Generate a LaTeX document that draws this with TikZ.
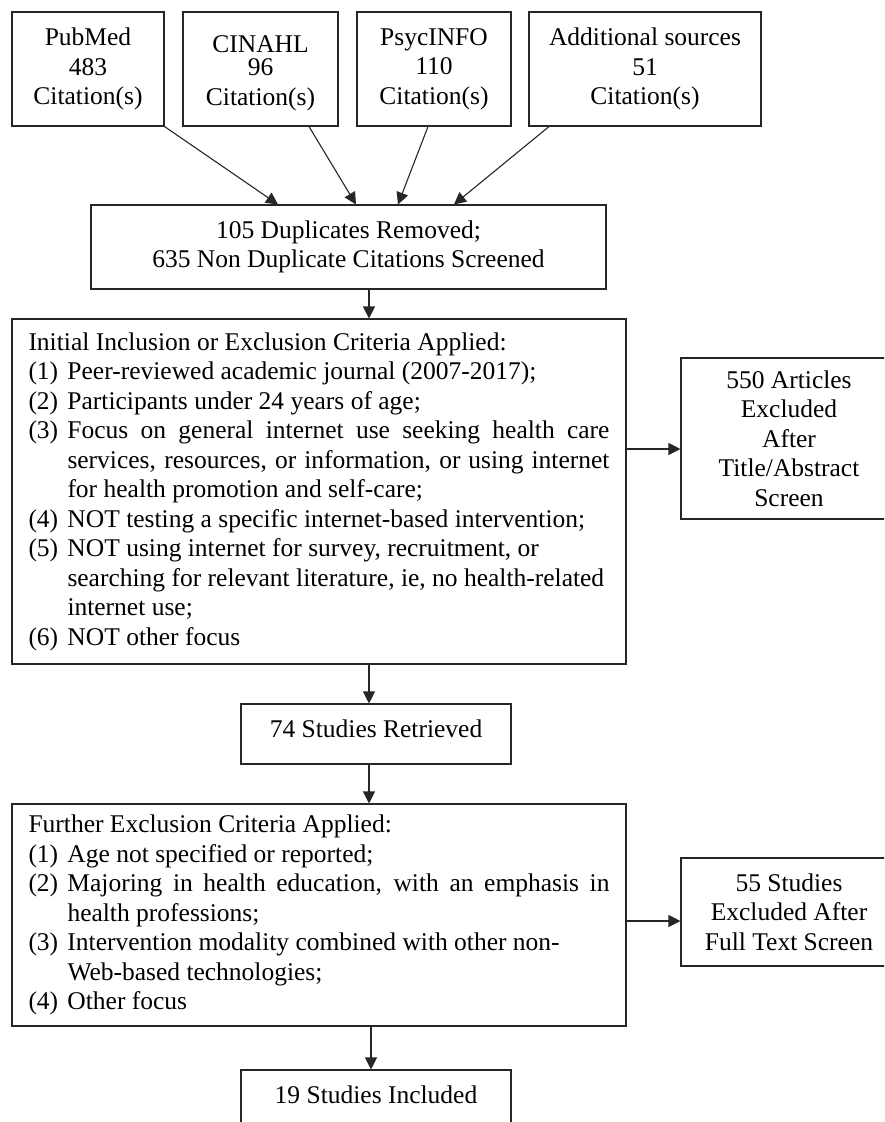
\documentclass[tikz,border=0pt]{standalone}
\usepackage{fontspec}
\setmainfont{Liberation Serif}
\usetikzlibrary{arrows.meta,calc}
\newcommand{\lbl}[1]{\makebox[39pt][l]{(#1)}}
\newcommand{\cnt}{\hspace*{39pt}}
\newcommand{\jl}[1]{\makebox[542pt][s]{#1}}
\begin{document}
\begin{tikzpicture}[x=1pt,y=-1pt,
  box/.style={draw=black!85, line width=1.1pt, rectangle, align=center, inner sep=0pt,
    font=\fontsize{25.5pt}{29.5pt}\selectfont, text=black},
  lbox/.style={box, align=left},
  txt/.style={align=center, inner sep=0pt, font=\fontsize{25.5pt}{29.5pt}\selectfont, text=black},
  arr/.style={draw=black!85, line width=1.1pt, -{Triangle[length=12pt,width=12pt]}}]
\fill[white] (0,0) rectangle (884,1122);
\clip (0,0) rectangle (884,1122);
% sources
\node[box, minimum width=152pt, minimum height=114pt] (pub) at (88,69) {PubMed\\483\\Citation(s)};
\node[box, minimum width=155pt, minimum height=114pt] (cin) at (260.5,69) {};
\node[txt] (cint) at (260.5,73) {CINAHL\\[-6pt]96\\Citation(s)};
\node[box, minimum width=154pt, minimum height=114pt] (psy) at (434,69) {PsycINFO\\110\\Citation(s)};
\node[box, minimum width=232pt, minimum height=114pt] (add) at (645,69) {Additional sources\\51\\Citation(s)};
% duplicates
\node[box, minimum width=515pt, minimum height=84pt] (dup) at (348.5,247) {105 Duplicates Removed;\\635 Non Duplicate Citations Screened};
% criteria 1
\node[lbox, minimum width=614pt, minimum height=345pt] (crit1) at (319,491.5) {%
Initial Inclusion or Exclusion Criteria Applied:\\
\lbl{1}Peer-reviewed academic journal (2007-2017);\\
\lbl{2}Participants under 24 years of age;\\
\lbl{3}\jl{Focus on general internet use seeking health care}\\
\cnt\jl{services, resources, or information, or using internet}\\
\cnt for health promotion and self-care;\\
\lbl{4}NOT testing a specific internet-based intervention;\\
\lbl{5}NOT using internet for survey, recruitment, or\\
\cnt searching for relevant literature, ie, no health-related\\
\cnt internet use;\\
\lbl{6}NOT other focus};
\node[box, minimum width=216pt, minimum height=161pt] (ex1) at (789,438.5) {550 Articles\\Excluded\\After\\Title/Abstract\\Screen};
% retrieved
\node[box, minimum width=270pt, minimum height=60pt, text height=17.4pt, text depth=11.4pt] (ret) at (376,734) {74 Studies Retrieved};
% criteria 2
\node[lbox, minimum width=614pt, minimum height=222pt] (crit2) at (319,915) {%
Further Exclusion Criteria Applied:\\
\lbl{1}Age not specified or reported;\\
\lbl{2}\jl{Majoring in health education, with an emphasis in}\\
\cnt health professions;\\
\lbl{3}Intervention modality combined with other non-\\
\cnt Web-based technologies;\\
\lbl{4}Other focus};
\node[box, minimum width=216pt, minimum height=108pt] (ex2) at (789,912) {55 Studies\\Excluded After\\Full Text Screen};
% included
\node[box, minimum width=270pt, minimum height=60pt, text height=17.4pt, text depth=11.4pt] (inc) at (376,1100) {19 Studies Included};
% connectors
\draw[arr] (pub.south east) -- ([xshift=-70.5pt]dup.north);
\draw[arr] ([xshift=48.5pt]cin.south) -- ([xshift=7.5pt]dup.north);
\draw[arr] ([xshift=-6pt]psy.south) -- ([xshift=49.5pt]dup.north);
\draw[arr] ([xshift=-96pt]add.south) -- ([xshift=105.5pt]dup.north);
\draw[arr] ([xshift=20.5pt]dup.south) -- ([xshift=50pt]crit1.north);
\draw[arr] ([xshift=50pt]crit1.south) -- ([xshift=-7pt]ret.north);
\draw[arr] ([xshift=-7pt]ret.south) -- ([xshift=50pt]crit2.north);
\draw[arr] ([xshift=52pt]crit2.south) -- ([xshift=-5pt]inc.north);
\draw[arr] ([yshift=42.5pt]crit1.east) coordinate (a1) -- (a1 -| ex1.west);
\draw[arr] ([yshift=-6pt]crit2.east) coordinate (a2) -- (a2 -| ex2.west);
\end{tikzpicture}
\end{document}
